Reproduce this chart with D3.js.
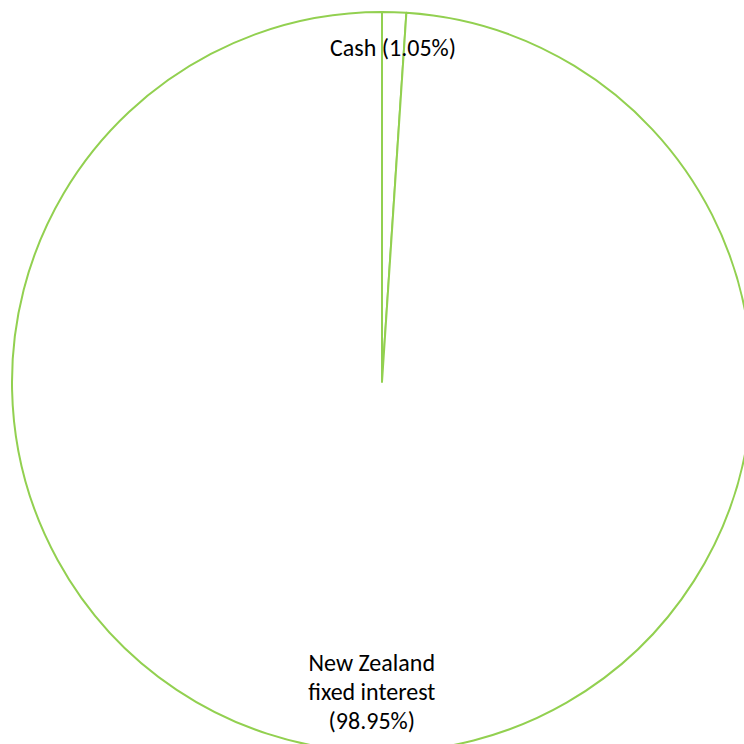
<!DOCTYPE html>
<html><head><meta charset="utf-8">
<script src="https://cdn.jsdelivr.net/npm/d3@7"></script>
<style>html,body{margin:0;padding:0;background:#fff;overflow:hidden}</style>
</head><body>
<svg id="chart" width="744" height="744"></svg>
<script>
const categories = ["Cash", "New Zealand fixed interest"];
const values = [1.05, 98.95];
const labelLines = [["Cash (1.05%)"], ["New Zealand", "fixed interest", "(98.95%)"]];

const svg = d3.select("#chart");
const cx = 382, cy = 382, R = 370;
const g = svg.append("g").attr("transform", `translate(${cx},${cy})`);
const data = categories.map((c, i) => ({cat: c, value: values[i], lines: labelLines[i]}));
const pie = d3.pie().sort(null).value(d => d.value);
const arcs = pie(data);
const arc = d3.arc().innerRadius(0).outerRadius(R);

g.selectAll("path.slice").data(arcs).enter().append("path")
  .attr("class", "slice")
  .attr("d", arc)
  .attr("fill", "#ffffff")
  .attr("stroke", "#92D050")
  .attr("stroke-width", 2)
  .attr("stroke-linejoin", "round");

const labelR = [335, 310];
const font = "Carlito, 'Liberation Sans Narrow', 'Liberation Sans', sans-serif";
const lineH = 29;
arcs.forEach((a, i) => {
  const mid = (a.startAngle + a.endAngle) / 2;
  const x = labelR[i] * Math.sin(mid);
  const y = -labelR[i] * Math.cos(mid);
  const n = a.data.lines.length;
  const t = g.append("text")
    .attr("text-anchor", "middle")
    .attr("font-family", font)
    .attr("font-size", 24)
    .attr("fill", "#000");
  a.data.lines.forEach((ln, j) => {
    t.append("tspan").attr("x", x)
      .attr("y", y + (j - (n - 1) / 2) * lineH)
      .attr("dy", "0.35em")
      .text(ln);
  });
});
</script>
</body></html>
